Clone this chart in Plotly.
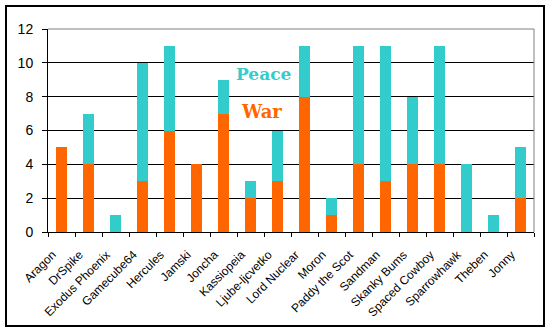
import plotly.graph_objects as go

categories = ["Aragon", "DrSpike", "Exodus Phoenix", "Gamecube64", "Hercules", "Jamski",
              "Joncha", "Kassiopeia", "Ljube-ljcvetko", "Lord Nuclear", "Moron",
              "Paddy the Scot", "Sandman", "Skanky Bums", "Spaced Cowboy", "Sparrowhawk",
              "Theben", "Jonny"]
war = [5, 4, 0, 3, 6, 4, 7, 2, 3, 8, 1, 4, 3, 4, 4, 0, 0, 2]
peace = [0, 3, 1, 7, 5, 0, 2, 1, 3, 3, 1, 7, 8, 4, 7, 4, 1, 3]
y_ticks = [0, 2, 4, 6, 8, 10, 12]

WAR_C = "#FF6600"
PEACE_C = "#33CCCC"

fig = go.Figure()
fig.add_trace(go.Bar(x=categories, y=war, name="War", marker=dict(color=WAR_C, line=dict(width=0))))
fig.add_trace(go.Bar(x=categories, y=peace, name="Peace", marker=dict(color=PEACE_C, line=dict(width=0))))

L, T, R, B = 48, 29, 17, 100
W, H = 551, 332
pw, ph = W - L - R, H - T - B

fig.update_layout(
    width=W, height=H, barmode="stack", bargap=0.6, showlegend=False,
    margin=dict(l=L, r=R, t=T, b=B, pad=0, autoexpand=False),
    paper_bgcolor="white", plot_bgcolor="white",
    font=dict(family="Liberation Sans, Arial, sans-serif", color="black"),
    xaxis=dict(tickangle=-45, tickfont=dict(size=12), ticks="outside", tickson="boundaries",
               ticklen=4, tickcolor="black", showline=True, linecolor="black", linewidth=1,
               showgrid=False, automargin=False, ticklabelstandoff=10, ticklabelshift=-9),
    yaxis=dict(range=[0, 12], tickvals=y_ticks, tickfont=dict(size=14), ticks="outside",
               ticklen=5, tickcolor="black", showline=True, linecolor="black", linewidth=1,
               showgrid=True, gridcolor="black", gridwidth=1, zeroline=False,
               ticklabelstandoff=6, automargin=False),
)

# plot-area border (gray, top and right)
fig.add_shape(type="line", xref="paper", yref="paper", x0=0, x1=1, y0=1, y1=1,
              line=dict(color="#808080", width=1), layer="above")
fig.add_shape(type="line", xref="paper", yref="paper", x0=1, x1=1, y0=0, y1=1,
              line=dict(color="#808080", width=1), layer="above")
# outer chart border
fig.add_shape(type="rect", xref="paper", yref="paper",
              x0=(6 - L) / pw, x1=(544 - L) / pw, y0=(T + ph - 326) / ph, y1=(T + ph - 6) / ph,
              line=dict(color="black", width=2), layer="above")

# legend as text
fig.add_annotation(text="<b>Peace</b>", xref="paper", yref="paper",
                   x=(264 - L) / pw, y=(T + ph - 74) / ph, xanchor="center", yanchor="middle",
                   showarrow=False,
                   font=dict(family="DejaVu Serif, serif", size=17, color=PEACE_C))
fig.add_annotation(text="<b>War</b>", xref="paper", yref="paper",
                   x=(261 - L) / pw, y=(T + ph - 112) / ph, xanchor="center", yanchor="middle",
                   showarrow=False,
                   font=dict(family="DejaVu Serif, serif", size=18, color=WAR_C))

fig.write_html("out.html")
